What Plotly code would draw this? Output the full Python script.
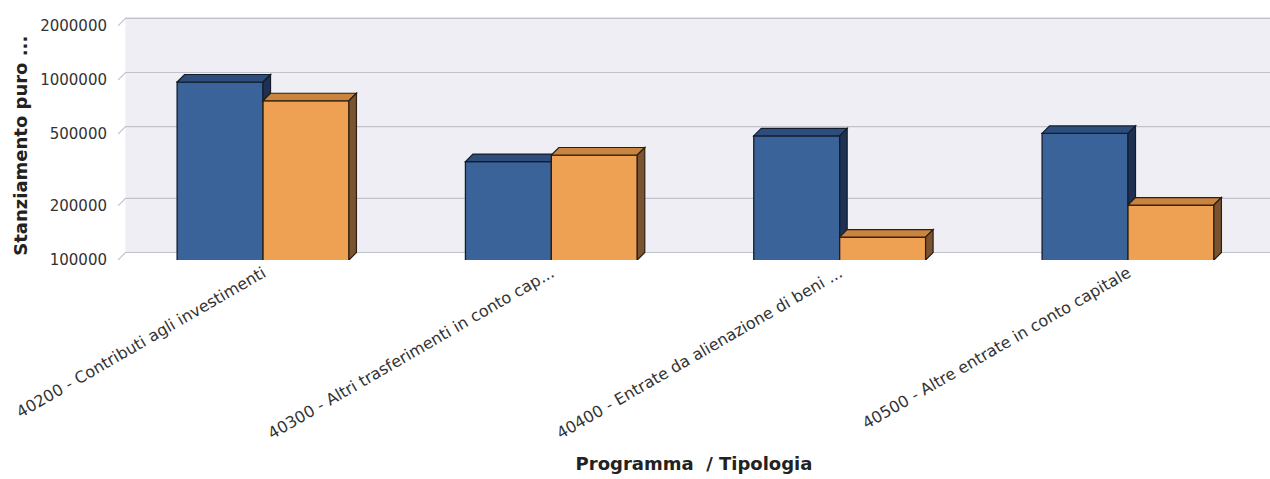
import plotly.graph_objects as go

# ---- data ----
categories = [
    "40200 - Contributi agli investimenti",
    "40300 - Altri trasferimenti in conto cap...",
    "40400 - Entrate da alienazione di beni ...",
    "40500 - Altre entrate in conto capitale",
]
serie_blu = [975000, 352000, 489000, 505000]
serie_arancio = [767000, 383000, 134000, 202000]
y_tick_values = [100000, 200000, 500000, 1000000, 2000000]
y_tick_labels = ["100000", "200000", "500000", "1000000", "2000000"]

y_title = "Stanziamento puro ..."
x_title = "Programma\u00a0 / Tipologia"

# ---- styling / geometry ----
W, H = 1270, 479
M_L, M_R, M_T, M_B = 118, 0, 17, 219
X_RANGE = [-0.503, 3.4925]
Y_RANGE_LOG = [5.0, 6.35]
BAR_W = 0.298
DEPTH_PX = 7.5

plot_w = W - M_L - M_R
plot_h = H - M_T - M_B
DX = DEPTH_PX * (X_RANGE[1] - X_RANGE[0]) / plot_w
KY = 10 ** (DEPTH_PX * (Y_RANGE_LOG[1] - Y_RANGE_LOG[0]) / plot_h)
BASE = 10 ** Y_RANGE_LOG[0]

BLUE = "#3A6399"
BLUE_TOP = "#2D4D7C"
BLUE_SIDE = "#1F3152"
BLUE_EDGE = "#141c2c"
ORANGE = "#EEA152"
ORANGE_TOP = "#C98540"
ORANGE_SIDE = "#7A5430"
ORANGE_EDGE = "#2e1e10"
WALL = "#EEEEF4"
GRID = "#C2C2CC"

x_pos = list(range(len(categories)))

fig = go.Figure()
fig.add_trace(go.Bar(
    x=x_pos, y=serie_blu, offset=-BAR_W, width=BAR_W,
    marker=dict(color=BLUE, line=dict(color=BLUE_EDGE, width=1.3)),
    hoverinfo="y", name="",
))
fig.add_trace(go.Bar(
    x=x_pos, y=serie_arancio, offset=0, width=BAR_W,
    marker=dict(color=ORANGE, line=dict(color=ORANGE_EDGE, width=1.3)),
    hoverinfo="y", name="",
))


def poly(pts):
    return "M " + " L ".join(f"{x},{y}" for x, y in pts) + " Z"


shapes = []
# back wall
shapes.append(dict(
    type="path", xref="x", yref="y", layer="below",
    path=poly([(X_RANGE[0] + DX, BASE * KY), (X_RANGE[1] + 1, BASE * KY),
               (X_RANGE[1] + 1, 10 ** Y_RANGE_LOG[1] * 1.5),
               (X_RANGE[0] + DX, 10 ** Y_RANGE_LOG[1] * 1.5)]),
    fillcolor=WALL, line=dict(width=0),
))
# grid lines on the back wall
for t in y_tick_values:
    shapes.append(dict(
        type="path", xref="x", yref="y", layer="below",
        path=f"M {X_RANGE[0]},{t} L {X_RANGE[0] + DX},{t * KY} L {X_RANGE[1] + 1},{t * KY}",
        line=dict(color=GRID, width=1.2),
    ))

# 3D faces of the bars
for i, (vb, vo) in enumerate(zip(serie_blu, serie_arancio)):
    x0 = i - BAR_W
    x1 = i
    x2 = i + BAR_W
    # blue top face
    if vo > vb:
        top_b = [(x0, vb), (x1, vb), (x1, vb * KY), (x0 + DX, vb * KY)]
    else:
        top_b = [(x0, vb), (x1, vb), (x1 + DX, vb * KY), (x0 + DX, vb * KY)]
    shapes.append(dict(type="path", xref="x", yref="y", layer="above",
                       path=poly(top_b), fillcolor=BLUE_TOP,
                       line=dict(color=BLUE_EDGE, width=1.2)))
    # blue side face (visible only above the orange bar)
    if vb > vo:
        side_b = [(x1, vb), (x1 + DX, vb * KY), (x1 + DX, vo * KY), (x1, vo)]
        shapes.append(dict(type="path", xref="x", yref="y", layer="above",
                           path=poly(side_b), fillcolor=BLUE_SIDE,
                           line=dict(color=BLUE_EDGE, width=1.2)))
    # orange top face
    top_o = [(x1, vo), (x2, vo), (x2 + DX, vo * KY), (x1 + DX, vo * KY)]
    shapes.append(dict(type="path", xref="x", yref="y", layer="above",
                       path=poly(top_o), fillcolor=ORANGE_TOP,
                       line=dict(color=ORANGE_EDGE, width=1.2)))
    # orange side face
    side_o = [(x2, vo), (x2 + DX, vo * KY), (x2 + DX, BASE * KY), (x2, BASE)]
    shapes.append(dict(type="path", xref="x", yref="y", layer="above",
                       path=poly(side_o), fillcolor=ORANGE_SIDE,
                       line=dict(color=ORANGE_EDGE, width=1.2)))

fig.update_layout(
    width=W, height=H,
    margin=dict(l=M_L, r=M_R, t=M_T, b=M_B, pad=0, autoexpand=False),
    paper_bgcolor="white", plot_bgcolor="white",
    showlegend=False, barmode="overlay",
    shapes=shapes,
    font=dict(family="DejaVu Sans", color="#333333"),
    xaxis=dict(
        range=X_RANGE, tickmode="array", tickvals=x_pos, ticktext=categories,
        tickangle=-30, showgrid=False, zeroline=False, showline=False,
        ticks="", automargin=False,
        tickfont=dict(size=16, color="#333333", family="DejaVu Sans"),
        title=dict(text=x_title, standoff=15,
                   font=dict(size=18, color="#222222", family="DejaVu Sans", weight="bold")),
    ),
    yaxis=dict(
        type="log", range=Y_RANGE_LOG, tickmode="array",
        tickvals=y_tick_values, ticktext=y_tick_labels,
        showgrid=False, zeroline=False, showline=False, ticks="",
        ticklabelstandoff=10, automargin=False,
        tickfont=dict(size=15, color="#333333", family="DejaVu Sans"),
    ),
    annotations=[dict(
        text=y_title, textangle=-90, showarrow=False,
        xref="paper", yref="paper", x=0, y=0.47,
        xanchor="center", yanchor="middle", xshift=-97,
        font=dict(size=18, color="#222222", family="DejaVu Sans", weight="bold"),
    )],
)

fig.write_html(
    "out.html",
    config={"displayModeBar": False},
    post_script="document.body.style.margin='0';document.body.style.overflow='hidden';",
)
